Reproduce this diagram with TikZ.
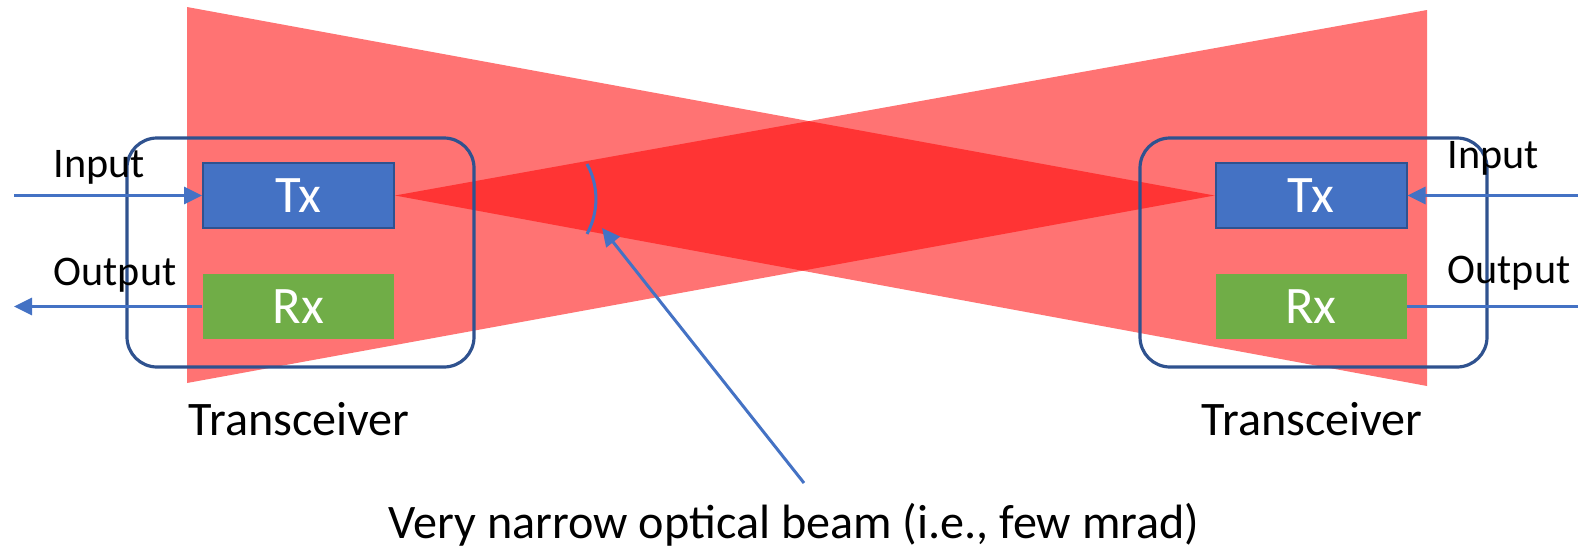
\documentclass[tikz,border=0pt]{standalone}
\usepackage{fontspec}
\setmainfont{Carlito}
\usetikzlibrary{arrows.meta, backgrounds}
\definecolor{txblue}{HTML}{4472C4}
\definecolor{rxgreen}{HTML}{70AD47}
\definecolor{edgeblue}{HTML}{2F528F}

\begin{document}
\begin{tikzpicture}[x=0.1mm, y=-0.1mm,
            blk/.style={minimum width=19.1mm, minimum height=6.5mm, inner sep=0pt, text=white, font=\fontsize{15}{17}\selectfont},
            tx/.style={blk, fill=txblue, draw=edgeblue, line width=0.2mm},
            rx/.style={blk, fill=rxgreen},
            trx/.style={draw=edgeblue, line width=0.32mm, rounded corners=3mm, minimum width=34.7mm, minimum height=22.9mm, inner sep=0pt},
            lbl/.style={font=\fontsize{13.7}{16}\selectfont, inner sep=0pt},
            io/.style={lbl, font=\fontsize{12}{14}\selectfont, anchor=base west},
            beam/.style={fill=red, fill opacity=0.55},
            wire/.style={draw=txblue, line width=0.3mm},
            sig/.style={wire, -{Triangle[length=1.8mm, width=1.7mm]}}]
            \useasboundingbox (0,0) rectangle (1578,548);
            \node[trx] (trxL) at (300.5,252.5) {};
            \node[trx] (trxR) at (1313.5,252.5) {};
            \node[tx] (txL) at (298.5,195.5) {Tx};
            \node[rx] (rxL) at (298.5,306.5) {Rx};
            \node[tx] (txR) at (1311,195.5)  {Tx};
            \node[rx] (rxR) at (1311,306.5)  {Rx};
            \coordinate (inL)  at (14,195.5);
            \coordinate (outL) at (14,306.5);
            \coordinate (inR)  at (1578,195.5);
            \coordinate (outR) at (1578,306.5);
            \coordinate (ptrFoot) at (804,483);
            \coordinate (ptrTip)  at (602,228);
            \node[io] (inLblL)  at (53,177)   {Input};
            \node[io] (outLblL) at (53,285)   {Output};
            \node[io] (inLblR)  at (1447,168) {Input};
            \node[io] (outLblR) at (1447,283) {Output};
            \node[lbl, anchor=base west] (trxLblL) at (188,435)  {Transceiver};
            \node[lbl, anchor=base west] (trxLblR) at (1201,435) {Transceiver};
            \node[lbl, anchor=base] (beamLbl) at (794,538) {Very narrow optical beam (i.e., few mrad)};
            \draw[sig] (inL) -- (txL.west);
            \draw[sig] (rxL.west) -- (outL);
            \draw[sig] (inR) -- (txR.east);
            \draw[wire] (rxR.east) -- (outR);
            \draw[wire] (587,164) arc[start angle=-28.6, end angle=28.6, radius=73];
            \draw[sig] (ptrFoot) -- (ptrTip);
            \begin{scope}[on background layer]
                \fill[beam] (txL.east) -- (1427,10) -- (1427,386) -- cycle;
                \fill[beam] (txR.west) -- (187,7) -- (187,383) -- cycle;
            \end{scope}
        \end{tikzpicture}
\end{document}
